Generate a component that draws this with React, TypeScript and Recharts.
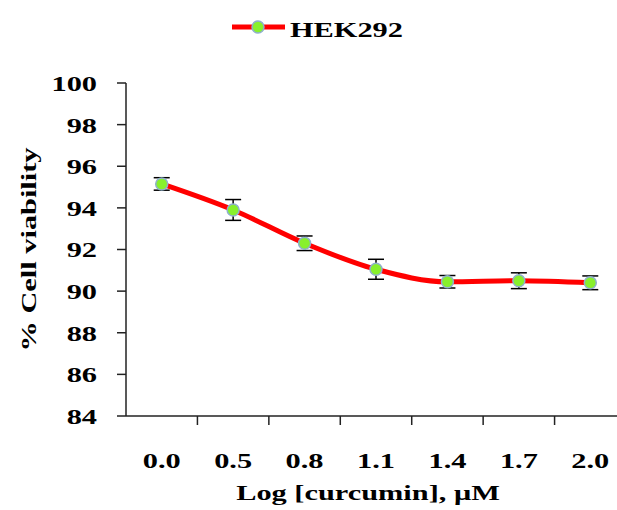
import React from 'react';
import {
  LineChart,
  Line,
  XAxis,
  YAxis,
  ErrorBar,
  Legend,
  Label,
} from 'recharts';

const doseLabels = ['0.0', '0.5', '0.8', '1.1', '1.4', '1.7', '2.0'];
const viability = [95.15, 93.9, 92.3, 91.05, 90.45, 90.5, 90.4];
const viabilityErr = [0.3, 0.5, 0.35, 0.48, 0.3, 0.38, 0.33];
const yTicks = [84, 86, 88, 90, 92, 94, 96, 98, 100];

const data = doseLabels.map((dose, i) => ({
  dose,
  value: viability[i],
  err: viabilityErr[i],
}));

const CHART_W = 640;
const CHART_H = 510;
const MARGIN = { top: 83, right: 14, bottom: 0, left: 0 };
const Y_AXIS_W = 126;
const X_AXIS_H = 94;
const PLOT_W = CHART_W - MARGIN.right - MARGIN.left - Y_AXIS_W;
const STEP = PLOT_W / doseLabels.length;
const AXIS_Y = CHART_H - MARGIN.bottom - X_AXIS_H;

// the original figure has wide, stretched Times-like glyphs
const STRETCH = 1.38;
const textStyle = {
  fontFamily: '"Liberation Serif", "Times New Roman", serif',
  fontWeight: 700,
  fontSize: 22,
  fill: '#000',
};

const YTick = (props: any) => {
  const { x, y, payload } = props;
  return (
    <g transform={`translate(${x},${y})`}>
      <text transform={`scale(${STRETCH},1)`} textAnchor="end" dy="0.36em" style={textStyle}>
        {payload.value}
      </text>
    </g>
  );
};

const XTick = (props: any) => {
  const { x, payload, index } = props;
  return (
    <g>
      {index < doseLabels.length - 1 && (
        <line x1={x + STEP / 2} x2={x + STEP / 2} y1={AXIS_Y} y2={AXIS_Y + 9} stroke="#222" strokeWidth={1.5} />
      )}
      <g transform={`translate(${x},${AXIS_Y + 52})`}>
        <text transform={`scale(${STRETCH},1)`} textAnchor="middle" style={textStyle}>
          {payload.value}
        </text>
      </g>
    </g>
  );
};

const XTitle = (props: any) => {
  const { viewBox } = props;
  const cx = viewBox.x + viewBox.width / 2 - 8;
  return (
    <g transform={`translate(${cx},${AXIS_Y + 84})`}>
      <text transform={`scale(${STRETCH},1)`} textAnchor="middle" style={textStyle}>
        Log [curcumin], μM
      </text>
    </g>
  );
};

const YTitle = (props: any) => {
  const { viewBox } = props;
  const cy = viewBox.y + viewBox.height / 2;
  return (
    <g transform={`translate(36,${cy}) rotate(-90)`}>
      <text transform={`scale(${STRETCH},1)`} textAnchor="middle" style={textStyle}>
        % Cell viability
      </text>
    </g>
  );
};

const LegendBox = () => (
  <svg width={617} height={50}>
    <line x1={232} x2={285} y1={27} y2={27} stroke="#ff0000" strokeWidth={5} />
    <circle cx={258} cy={27} r={6} fill="#88f02c" stroke="#8fb0cc" strokeWidth={1.5} />
    <g transform="translate(290,37)">
      <text transform={`scale(${STRETCH},1)`} style={textStyle}>
        HEK292
      </text>
    </g>
  </svg>
);

const App = () => {
  return (
    <div
      style={{
        position: 'absolute',
        left: 0,
        top: 0,
        width: 617,
        height: 510,
        overflow: 'hidden',
        background: '#fff',
      }}
    >
      <LineChart width={CHART_W} height={CHART_H} data={data} margin={MARGIN}>
        <XAxis
          dataKey="dose"
          scale="band"
          height={X_AXIS_H}
          axisLine={{ stroke: '#222', strokeWidth: 1.5 }}
          tickLine={false}
          tick={<XTick />}
          interval={0}
        >
          <Label content={<XTitle />} />
        </XAxis>
        <YAxis
          width={Y_AXIS_W}
          domain={[84, 100]}
          ticks={yTicks}
          allowDataOverflow
          axisLine={{ stroke: '#222', strokeWidth: 1.5 }}
          tickLine={{ stroke: '#222', strokeWidth: 1.5 }}
          tickSize={9}
          tickMargin={20}
          tick={<YTick />}
        >
          <Label content={<YTitle />} />
        </YAxis>
        <Legend
          layout="vertical"
          verticalAlign="middle"
          align="center"
          wrapperStyle={{ top: 0, left: 0, width: 617, height: 50 }}
          content={<LegendBox />}
        />
        <Line
          type="monotone"
          dataKey="value"
          name="HEK292"
          stroke="#ff0000"
          strokeWidth={5}
          dot={{ r: 6, fill: '#88f02c', stroke: '#8fb0cc', strokeWidth: 1.5 }}
          activeDot={false}
          isAnimationActive={false}
        >
          <ErrorBar dataKey="err" width={8} stroke="#000" strokeWidth={1.5} direction="y" isAnimationActive={false} />
        </Line>
      </LineChart>
    </div>
  );
};

export default App;
